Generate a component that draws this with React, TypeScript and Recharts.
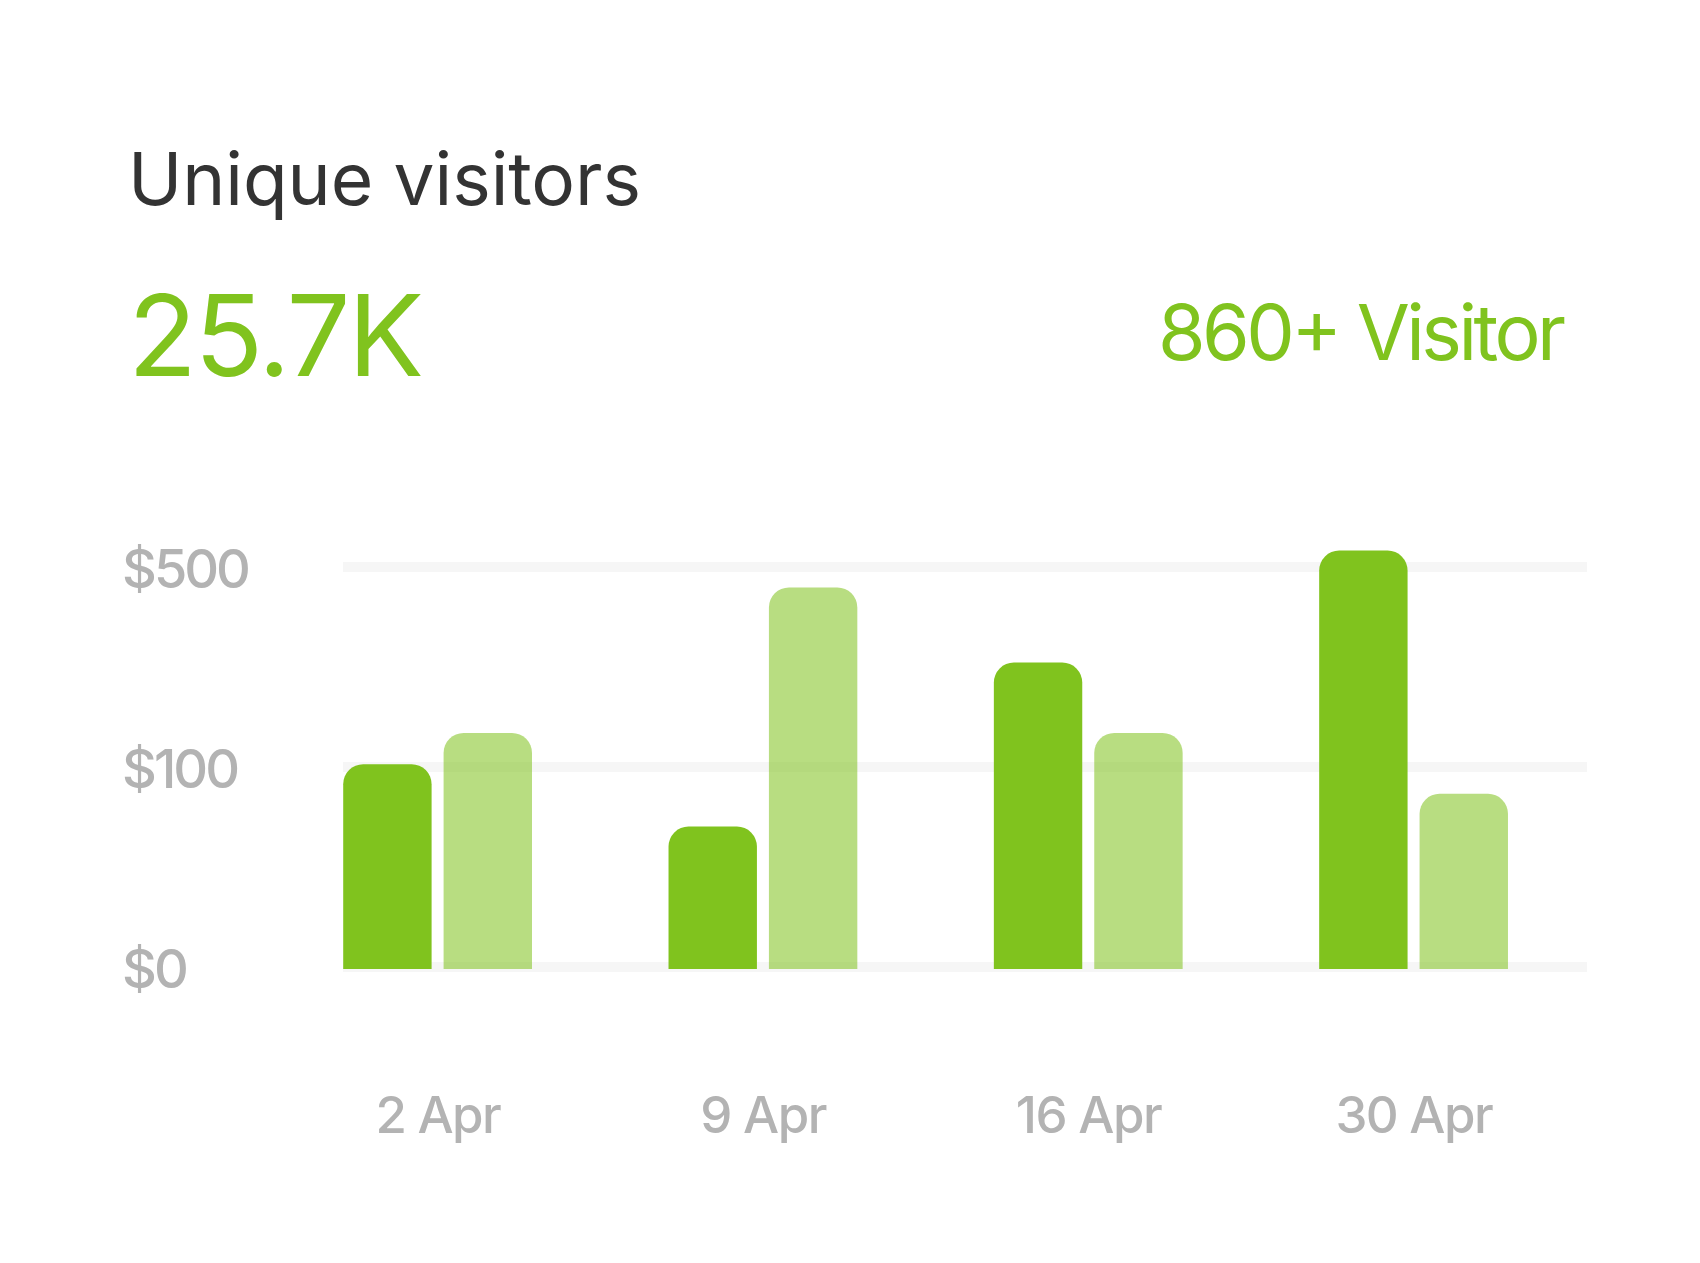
import { Bar, BarChart, CartesianGrid, XAxis, YAxis } from "recharts"

// categories and series (values read in the chart's own y units)
const dates = ['2 Apr', '9 Apr', '16 Apr', '30 Apr']
const visitors = [256, 178, 383, 523]
const lastPeriod = [295, 477, 295, 219]
const yTicks = [0, 250, 500]
const yTickLabels = ['$0', '$100', '$500']
const yMax = 600

const green = '#80c31e'
const grey = '#b3b3b3'
const font = 'Inter, "Noto Sans", sans-serif'

const data = dates.map((date, i) => ({ date, visitors: visitors[i], lastPeriod: lastPeriod[i] }))

const YTick = ({ y, payload }: any) => (
  <text x={122} y={y} dy="0.36em" fill={grey} fontSize={54} fontWeight={500} fontFamily={font} letterSpacing={-3}>
    {yTickLabels[yTicks.indexOf(payload.value)]}
  </text>
)

const XTick = ({ x, payload }: any) => (
  <text x={x} y={1133} textAnchor="middle" fill={grey} fontSize={51} fontWeight={500} fontFamily={font} letterSpacing={-1.5}>
    {payload.value}
  </text>
)

// grid rows only at the labelled ticks (no line at the top edge), a touch above them like the original
const gridRows = ({ offset }: any) =>
  offset ? yTicks.map((t) => offset.top + offset.height * (1 - t / yMax) - 2) : []

const App = () => {
  return (
    <div style={{ position: 'absolute', left: 0, top: 0, width: 1700, height: 1263, background: '#fff' }}>
      <svg width={1700} height={420} style={{ position: 'absolute', left: 0, top: 0 }}>
        <text x={128} y={205} fontSize={73} fill="#333333" fontFamily={font} textLength={513} lengthAdjust="spacing">
          Unique visitors
        </text>
        <text x={128} y={376} fontSize={113} fill={green} fontFamily={font} textLength={296} lengthAdjust="spacing">
          25.7K
        </text>
        <text x={1566} y={360} fontSize={77} fill={green} fontFamily={font} textAnchor="end" textLength={408} lengthAdjust="spacing">
          860+ Visitor
        </text>
      </svg>
      <div style={{ position: 'absolute', left: 0, top: 0 }}>
        <BarChart
          width={1700}
          height={1263}
          data={data}
          margin={{ top: 489, right: 123.5, bottom: 234, left: 125.2 }}
          barSize={88.4}
          barGap={12}
        >
          <CartesianGrid
            vertical={false}
            x={343}
            width={1244}
            stroke="#f6f6f6"
            strokeWidth={10}
            horizontalCoordinatesGenerator={gridRows}
          />
          <XAxis dataKey="date" height={60} axisLine={false} tickLine={false} tick={<XTick />} interval={0} />
          <YAxis width={150} domain={[0, yMax]} ticks={yTicks} axisLine={false} tickLine={false} tick={<YTick />} />
          <Bar dataKey="visitors" fill={green} radius={[20, 20, 0, 0]} isAnimationActive={false} />
          <Bar dataKey="lastPeriod" fill={green} fillOpacity={0.56} radius={[20, 20, 0, 0]} isAnimationActive={false} />
        </BarChart>
      </div>
    </div>
  )
}

export default App
